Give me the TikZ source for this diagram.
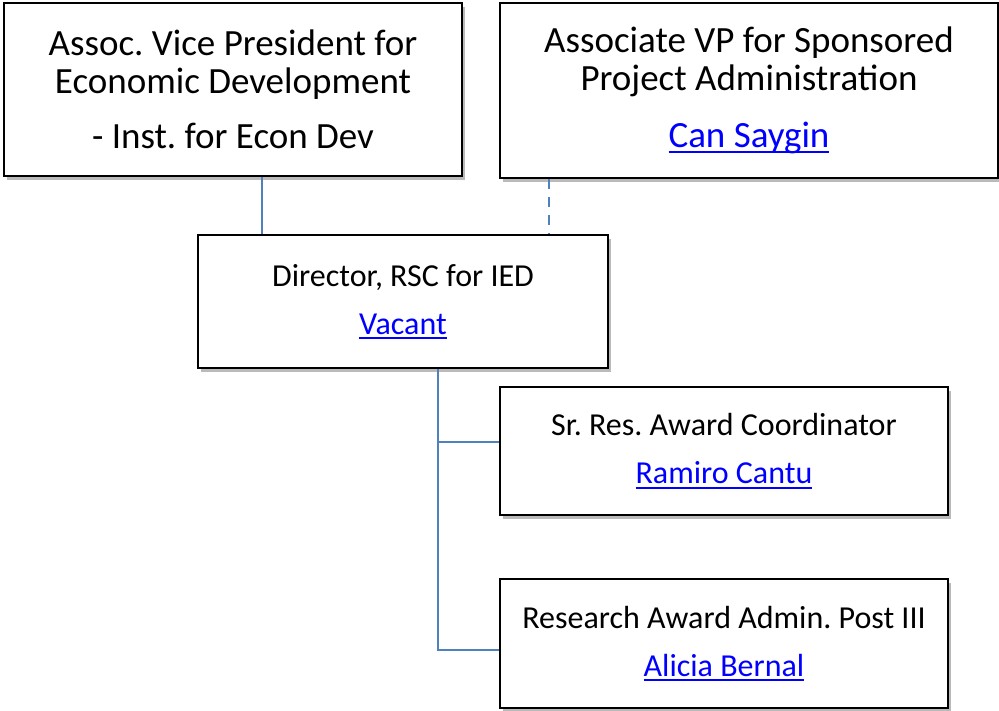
\documentclass[tikz,border=0pt]{standalone}
\usepackage{fontspec}
\setmainfont{Carlito}
\usetikzlibrary{shadows}
\definecolor{linkblue}{RGB}{0,0,255}
\definecolor{connblue}{RGB}{79,129,189}
\frenchspacing
\newcommand\lnk[1]{{\color{linkblue}\setbox0\hbox{#1}\rlap{\usebox0}\rule[-5pt]{\wd0}{2pt}}}
\tikzset{
  orgbox/.style={draw=black, line width=2pt, fill=white, rectangle, align=center, inner sep=0pt,
    drop shadow={shadow xshift=3pt, shadow yshift=-4pt, opacity=0.45, fill=black!60}},
  bigtxt/.style={font=\fontsize{37}{38}\selectfont},
  smalltxt/.style={font=\fontsize{32}{48}\selectfont},
  conn/.style={draw=connblue, line width=2pt},
}
\begin{document}
\begin{tikzpicture}[x=1pt,y=-1pt]
\useasboundingbox (0,0) rectangle (999,710);
\node[orgbox, bigtxt, minimum width=458pt, minimum height=173pt] (b1) at (233,89.5)
  {Assoc. Vice President for\\Economic Development\\[17pt]- Inst. for Econ Dev};
\node[orgbox, bigtxt, minimum width=498pt, minimum height=175pt] (b2) at (749,90.5)
  {Associate VP for Sponsored\\Project Administration\\[19pt]\lnk{Can Saygin}};
\node[orgbox, smalltxt, minimum width=410pt, minimum height=133pt] (b3) at (403,301.5)
  {Director, RSC for IED\\\lnk{Vacant}};
\node[orgbox, smalltxt, minimum width=448pt, minimum height=128pt] (b4) at (724,451)
  {Sr. Res. Award Coordinator\\\lnk{Ramiro Cantu}};
\node[orgbox, smalltxt, minimum width=448pt, minimum height=129pt] (b5) at (724,643.5)
  {Research Award Admin. Post III\\\lnk{Alicia Bernal}};
\coordinate (t1) at ([xshift=29pt]b1.south);
\coordinate (t2) at ([xshift=-200pt]b2.south);
\coordinate (tr) at ([xshift=35pt]b3.south);
\coordinate (j4) at ([yshift=9pt]b4.west);
\coordinate (j5) at ([yshift=-6.5pt]b5.west);
\draw[conn] (t1) -- (t1 |- b3.north);
\draw[conn, dash pattern=on 10pt off 8pt] (t2) -- (t2 |- b3.north);
\draw[conn] (tr) -- (tr |- j5) -- (j5);
\draw[conn] (tr |- j4) -- (j4);
\end{tikzpicture}
\end{document}
